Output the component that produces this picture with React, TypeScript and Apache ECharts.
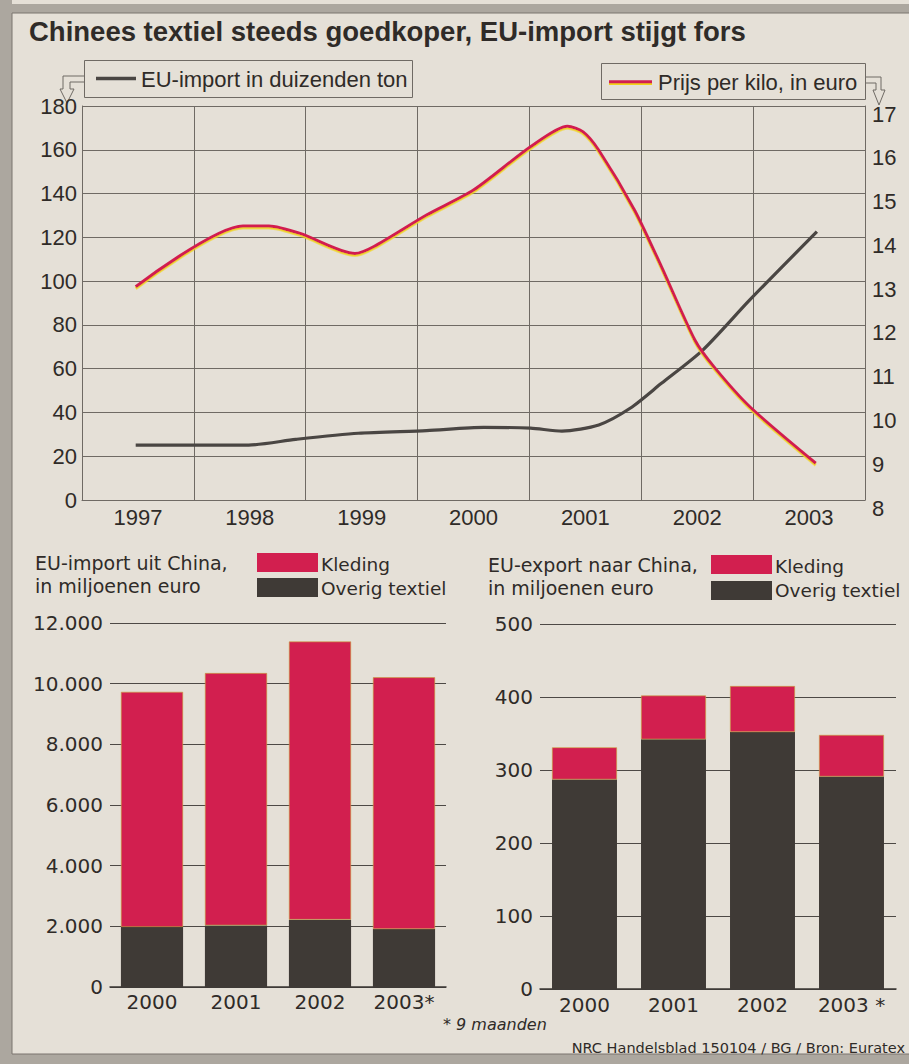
import React, { useEffect, useRef } from "react";
import * as echarts from "echarts";

// ---------- data ----------
const lineYears = ["1997", "1998", "1999", "2000", "2001", "2002", "2003"];

const importTime = [1996.98, 1997.99, 1998.41, 1998.97, 1999.58, 2000.09, 2000.51, 2000.79, 2001.12, 2001.4, 2001.68, 2002.05, 2002.47, 2003.07];
const importTons = [25.1, 25.1, 27.7, 30.5, 31.7, 33.2, 32.8, 31.5, 34.3, 41.9, 53.3, 68.5, 91.4, 122.6];

const priceTime = [1996.98, 1997.94, 1998.17, 1998.45, 1998.94, 1999.11, 1999.58, 2000.0, 2000.51, 2000.84, 2000.98, 2001.12, 2001.44, 2001.68, 2001.98, 2002.15, 2002.47, 2003.06];
const priceEuro = [12.87, 14.26, 14.26, 14.09, 13.63, 13.79, 14.51, 15.08, 16.07, 16.54, 16.41, 15.99, 14.62, 13.33, 11.65, 11.04, 10.13, 8.84];

const importBarYears = ["2000", "2001", "2002", "2003*"];
const importOverig = [1980, 2030, 2220, 1910];
const importKleding = [7750, 8320, 9170, 8300];
const importTickLabels = ["0", "2.000", "4.000", "6.000", "8.000", "10.000", "12.000"];

const exportBarYears = ["2000", "2001", "2002", "2003 *"];
const exportOverig = [287, 342, 352, 291];
const exportKleding = [44, 60, 63, 57];

// ---------- styles ----------
const PAPER = "#e5e0d7";
const INK = "#2f2b28";
const GRID = "#6f6a64";
const RED = "#d21f4f";
const YELLOW = "#f1d21c";
const DARK = "#3f3a36";
const STIPPLE = "#aca79f";
const NARROW = '"Liberation Sans", Arial, sans-serif';
const WIDE = '"DejaVu Sans", "Bitstream Vera Sans", sans-serif';

function txt(text: string, x: number, y: number, font: string, align = "left", fill = INK) {
  return {
    type: "text",
    silent: true,
    style: {
      text,
      x,
      y,
      font,
      fill,
      textAlign: align,
      textVerticalAlign: "middle",
      align,
      verticalAlign: "middle",
    },
  };
}

export default function App() {
  const ref = useRef<HTMLDivElement>(null);

  useEffect(() => {
    if (!ref.current) return;
    const chart = echarts.init(ref.current, undefined, { renderer: "svg" });

    const importPts = importTime.map((t, i) => [t, importTons[i]]);
    const pricePts = priceTime.map((t, i) => [t, priceEuro[i]]);

    const option: any = {
      animation: false,
      backgroundColor: PAPER,
      grid: [
        { left: 82, top: 106, width: 783, height: 394, show: false },
        { left: 110, top: 623, width: 336, height: 364, show: false },
        { left: 540, top: 624, width: 356, height: 365, show: false },
      ],
      xAxis: [
        {
          type: "category",
          gridIndex: 0,
          data: lineYears,
          boundaryGap: true,
          axisLine: { show: true, lineStyle: { color: GRID, width: 1 } },
          axisTick: { show: false },
          axisLabel: { color: INK, fontFamily: NARROW, fontSize: 22, margin: 6, interval: 0 },
          splitLine: { show: true, interval: 0, lineStyle: { color: GRID, width: 1 } },
        },
        { type: "value", gridIndex: 0, min: 1996.5, max: 2003.5, show: false },
        {
          type: "category",
          gridIndex: 1,
          data: importBarYears,
          axisLine: { show: true, lineStyle: { color: "#3a3633", width: 1.5 } },
          axisTick: { show: false },
          axisLabel: { color: INK, fontFamily: WIDE, fontSize: 20, margin: 5, interval: 0 },
        },
        {
          type: "category",
          gridIndex: 2,
          data: exportBarYears,
          axisLine: { show: true, lineStyle: { color: "#3a3633", width: 1.5 } },
          axisTick: { show: false },
          axisLabel: { color: INK, fontFamily: WIDE, fontSize: 20, margin: 6, interval: 0 },
        },
      ],
      yAxis: [
        {
          type: "value",
          gridIndex: 0,
          min: 0,
          max: 180,
          interval: 20,
          position: "left",
          axisLine: { show: true, lineStyle: { color: GRID, width: 1 } },
          axisTick: { show: false },
          axisLabel: { color: INK, fontFamily: NARROW, fontSize: 22, margin: 5 },
          splitLine: { show: true, lineStyle: { color: GRID, width: 1 } },
        },
        {
          type: "value",
          gridIndex: 0,
          min: 8,
          max: 17,
          interval: 1,
          position: "right",
          axisLine: { show: true, lineStyle: { color: GRID, width: 1 } },
          axisTick: { show: false },
          axisLabel: {
            margin: 7,
            formatter: (v: number) => `{r|${v}}`,
            rich: {
              r: { color: INK, fontFamily: NARROW, fontSize: 22, padding: [16, 0, 0, 0] },
            },
          },
          splitLine: { show: false },
        },
        {
          type: "value",
          gridIndex: 1,
          min: 0,
          max: 12000,
          interval: 2000,
          axisLine: { show: false },
          axisTick: { show: false },
          axisLabel: {
            color: INK,
            fontFamily: WIDE,
            fontSize: 20,
            margin: 7,
            formatter: (v: number) => importTickLabels[Math.round(v / 2000)],
          },
          splitLine: { show: true, lineStyle: { color: "#4d4945", width: 1 } },
        },
        {
          type: "value",
          gridIndex: 2,
          min: 0,
          max: 500,
          interval: 100,
          axisLine: { show: false },
          axisTick: { show: false },
          axisLabel: { color: INK, fontFamily: WIDE, fontSize: 20, margin: 7 },
          splitLine: { show: true, lineStyle: { color: "#4d4945", width: 1 } },
        },
      ],
      series: [
        {
          name: "EU-import in duizenden ton",
          type: "line",
          xAxisIndex: 1,
          yAxisIndex: 0,
          data: importPts,
          smooth: 0.25,
          showSymbol: false,
          lineStyle: { color: "#4a4643", width: 3.2 },
        },
        {
          name: "Prijs per kilo, in euro",
          type: "line",
          xAxisIndex: 1,
          yAxisIndex: 1,
          data: pricePts,
          smooth: 0.25,
          showSymbol: false,
          lineStyle: {
            color: RED,
            width: 3,
            shadowColor: YELLOW,
            shadowOffsetY: 1.6,
            shadowOffsetX: 0,
            shadowBlur: 0,
          },
        },
        {
          name: "Overig textiel",
          type: "bar",
          xAxisIndex: 2,
          yAxisIndex: 2,
          stack: "imp",
          data: importOverig,
          barWidth: "74%",
          itemStyle: { color: DARK },
        },
        {
          name: "Kleding",
          type: "bar",
          xAxisIndex: 2,
          yAxisIndex: 2,
          stack: "imp",
          data: importKleding,
          barWidth: "74%",
          itemStyle: { color: RED, borderColor: "#c9a43a", borderWidth: 0.6 },
        },
        {
          name: "Overig textiel",
          type: "bar",
          xAxisIndex: 3,
          yAxisIndex: 3,
          stack: "exp",
          data: exportOverig,
          barWidth: "73%",
          itemStyle: { color: DARK },
        },
        {
          name: "Kleding",
          type: "bar",
          xAxisIndex: 3,
          yAxisIndex: 3,
          stack: "exp",
          data: exportKleding,
          barWidth: "73%",
          itemStyle: { color: RED, borderColor: "#c9a43a", borderWidth: 0.6 },
        },
      ],
      graphic: [
        // stippled frame
        { type: "rect", silent: true, shape: { x: 0, y: 0, width: 12, height: 1064 }, style: { fill: STIPPLE } },
        { type: "rect", silent: true, shape: { x: 0, y: 4, width: 909, height: 9 }, style: { fill: STIPPLE } },
        { type: "rect", silent: true, shape: { x: 0, y: 1054, width: 909, height: 10 }, style: { fill: STIPPLE } },
        { type: "line", silent: true, shape: { x1: 12, y1: 13, x2: 12, y2: 1054 }, style: { stroke: "#7a756e", lineWidth: 1 } },
        { type: "line", silent: true, shape: { x1: 12, y1: 13, x2: 909, y2: 13 }, style: { stroke: "#7a756e", lineWidth: 1 } },
        { type: "line", silent: true, shape: { x1: 12, y1: 1054, x2: 909, y2: 1054 }, style: { stroke: "#7a756e", lineWidth: 1 } },

        // title
        txt("Chinees textiel steeds goedkoper, EU-import stijgt fors", 29, 31, `bold 27.5px ${NARROW}`),

        // left legend box
        { type: "rect", silent: true, shape: { x: 84.5, y: 60.5, width: 328, height: 37 }, style: { fill: "none", stroke: GRID, lineWidth: 1 } },
        { type: "line", silent: true, shape: { x1: 96, y1: 78.5, x2: 136, y2: 78.5 }, style: { stroke: "#4a4643", lineWidth: 3.5 } },
        txt("EU-import in duizenden ton", 141, 79, `22px ${NARROW}`),
        {
          type: "polyline",
          silent: true,
          shape: { points: [[84, 76], [63, 76], [63, 89], [60, 89], [67, 103], [74, 89], [70, 89], [70, 82], [84, 82]] },
          style: { stroke: GRID, fill: "none", lineWidth: 1 },
        },

        // right legend box
        { type: "rect", silent: true, shape: { x: 601.5, y: 63.5, width: 264, height: 36 }, style: { fill: "none", stroke: GRID, lineWidth: 1 } },
        { type: "line", silent: true, shape: { x1: 609, y1: 83.6, x2: 652, y2: 83.6 }, style: { stroke: YELLOW, lineWidth: 3 } },
        { type: "line", silent: true, shape: { x1: 609, y1: 81.8, x2: 652, y2: 81.8 }, style: { stroke: RED, lineWidth: 3 } },
        txt("Prijs per kilo, in euro", 658, 82, `22px ${NARROW}`),
        {
          type: "polyline",
          silent: true,
          shape: { points: [[866, 77], [881, 77], [881, 90], [885, 90], [879, 105], [873, 90], [876, 90], [876, 83], [866, 83]] },
          style: { stroke: GRID, fill: "none", lineWidth: 1 },
        },

        // bottom-left headings & legend
        txt("EU-import uit China,", 35, 563, `19px ${WIDE}`),
        txt("in miljoenen euro", 35, 586, `19px ${WIDE}`),
        { type: "rect", silent: true, shape: { x: 257, y: 553, width: 61, height: 19 }, style: { fill: RED } },
        { type: "rect", silent: true, shape: { x: 257, y: 578, width: 61, height: 19 }, style: { fill: DARK } },
        txt("Kleding", 321, 564, `18.5px ${WIDE}`),
        txt("Overig textiel", 321, 588, `18.5px ${WIDE}`),

        // bottom-right headings & legend
        txt("EU-export naar China,", 488, 565, `19px ${WIDE}`),
        txt("in miljoenen euro", 488, 588, `19px ${WIDE}`),
        { type: "rect", silent: true, shape: { x: 711, y: 555, width: 61, height: 19 }, style: { fill: RED } },
        { type: "rect", silent: true, shape: { x: 711, y: 581, width: 61, height: 19 }, style: { fill: DARK } },
        txt("Kleding", 775, 566, `18.5px ${WIDE}`),
        txt("Overig textiel", 775, 590, `18.5px ${WIDE}`),

        // footnotes
        txt("* 9 maanden", 443, 1024, `italic 16px ${WIDE}`),
        txt("NRC Handelsblad 150104 / BG / Bron: Euratex", 905, 1048, `14.5px ${WIDE}`, "right"),
      ],
    };

    chart.setOption(option);
    return () => chart.dispose();
  }, []);

  return (
    <div
      ref={ref}
      style={{ position: "absolute", left: 0, top: 0, width: 909, height: 1064, background: PAPER }}
    />
  );
}
